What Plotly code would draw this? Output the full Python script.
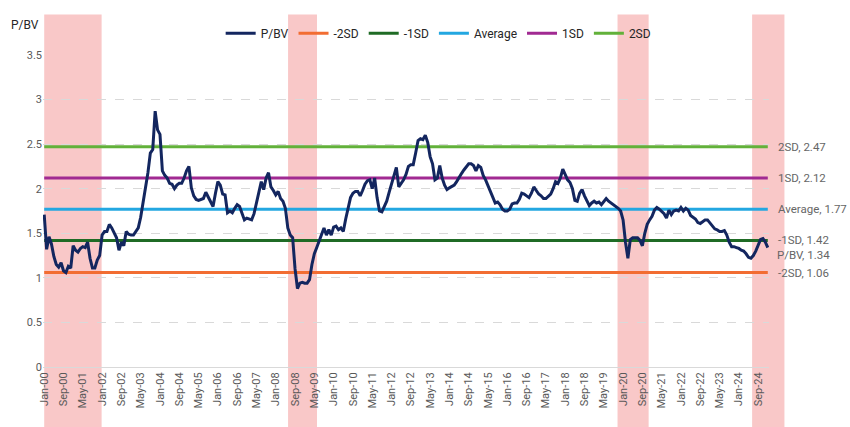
import pandas as pd
import plotly.graph_objects as go

# ---------------- data ----------------
pbv_2000 = [1.71, 1.32, 1.46, 1.38, 1.24, 1.15, 1.12, 1.17, 1.08, 1.06, 1.13, 1.11]
pbv_2001 = [1.36, 1.31, 1.29, 1.33, 1.35, 1.34, 1.40, 1.22, 1.11, 1.11, 1.20, 1.25]
pbv_2002 = [1.48, 1.52, 1.52, 1.60, 1.56, 1.50, 1.45, 1.31, 1.40, 1.36, 1.52, 1.49]
pbv_2003 = [1.48, 1.48, 1.52, 1.56, 1.68, 1.84, 2.02, 2.18, 2.40, 2.44, 2.87, 2.66]
pbv_2004 = [2.61, 2.20, 2.15, 2.12, 2.06, 2.05, 2.00, 2.04, 2.06, 2.06, 2.12, 2.20]
pbv_2005 = [2.25, 2.01, 1.92, 1.88, 1.87, 1.88, 1.89, 1.96, 1.90, 1.84, 1.80, 1.95]
pbv_2006 = [2.08, 2.04, 1.94, 1.93, 1.73, 1.75, 1.73, 1.78, 1.82, 1.80, 1.72, 1.65]
pbv_2007 = [1.67, 1.66, 1.65, 1.72, 1.85, 1.95, 2.08, 1.99, 2.12, 2.18, 2.02, 1.98]
pbv_2008 = [1.93, 1.97, 1.89, 1.86, 1.78, 1.56, 1.48, 1.45, 1.10, 0.88, 0.94, 0.95]
pbv_2009 = [0.94, 0.94, 0.98, 1.15, 1.27, 1.34, 1.42, 1.48, 1.56, 1.48, 1.54, 1.48]
pbv_2010 = [1.57, 1.58, 1.54, 1.56, 1.52, 1.66, 1.77, 1.90, 1.95, 1.97, 1.97, 1.92]
pbv_2011 = [1.98, 2.05, 2.09, 2.10, 2.00, 2.12, 1.90, 1.75, 1.74, 1.80, 1.86, 1.96]
pbv_2012 = [2.06, 2.16, 2.24, 2.02, 2.06, 2.10, 2.16, 2.25, 2.27, 2.27, 2.40, 2.54]
pbv_2013 = [2.56, 2.55, 2.60, 2.52, 2.36, 2.28, 2.10, 2.12, 2.26, 2.12, 2.04, 1.99]
pbv_2014 = [2.01, 2.03, 2.04, 2.08, 2.13, 2.17, 2.21, 2.25, 2.28, 2.28, 2.26, 2.20]
pbv_2015 = [2.26, 2.24, 2.15, 2.10, 2.03, 1.98, 1.90, 1.84, 1.85, 1.82, 1.77, 1.75]
pbv_2016 = [1.75, 1.77, 1.83, 1.84, 1.84, 1.88, 1.95, 1.94, 1.92, 1.90, 1.95, 2.02]
pbv_2017 = [1.98, 1.94, 1.92, 1.89, 1.89, 1.91, 1.94, 2.00, 2.08, 2.06, 2.12, 2.22]
pbv_2018 = [2.15, 2.10, 2.07, 2.00, 1.87, 1.86, 1.95, 1.99, 1.92, 1.87, 1.81, 1.84]
pbv_2019 = [1.86, 1.84, 1.85, 1.82, 1.85, 1.89, 1.86, 1.84, 1.83, 1.81, 1.78, 1.75]
pbv_2020 = [1.65, 1.40, 1.22, 1.43, 1.45, 1.45, 1.45, 1.42, 1.36, 1.50, 1.60, 1.65]
pbv_2021 = [1.69, 1.76, 1.79, 1.77, 1.75, 1.72, 1.67, 1.76, 1.71, 1.75, 1.76, 1.75]
pbv_2022 = [1.79, 1.75, 1.78, 1.76, 1.70, 1.68, 1.66, 1.62, 1.61, 1.63, 1.65, 1.65]
pbv_2023 = [1.62, 1.59, 1.55, 1.54, 1.52, 1.52, 1.53, 1.48, 1.40, 1.35, 1.35, 1.34]
pbv_2024 = [1.33, 1.31, 1.30, 1.27, 1.23, 1.22, 1.25, 1.30, 1.37, 1.43, 1.44, 1.40]
pbv_2025 = [1.34]

pbv = (pbv_2000 + pbv_2001 + pbv_2002 + pbv_2003 + pbv_2004 + pbv_2005 + pbv_2006
       + pbv_2007 + pbv_2008 + pbv_2009 + pbv_2010 + pbv_2011 + pbv_2012 + pbv_2013
       + pbv_2014 + pbv_2015 + pbv_2016 + pbv_2017 + pbv_2018 + pbv_2019 + pbv_2020
       + pbv_2021 + pbv_2022 + pbv_2023 + pbv_2024 + pbv_2025)

months = [d.strftime("%b-%y") for d in pd.date_range("2000-01-01", periods=len(pbv), freq="MS")]
tick_labels = months[::8][:38]

band_names = ["2SD", "1SD", "Average", "-1SD", "-2SD"]
band_values = [2.47, 2.12, 1.77, 1.42, 1.06]
band_colors = ["#62B13A", "#A12A92", "#23A7E1", "#1F6B25", "#F26D32"]

# shaded periods (start/end month index)
shade_start = [0.0, 101.1, 237.7, 293.5]
shade_end = [23.8, 113.1, 250.6, 306.9]

y_ticks = [0, 0.5, 1, 1.5, 2, 2.5, 3, 3.5]

FONT = "Roboto, Liberation Sans, sans-serif"
n = len(pbv)

fig = go.Figure()

legend_rank = {"-2SD": 2, "-1SD": 3, "Average": 4, "1SD": 5, "2SD": 6}
for name, val, col in zip(band_names, band_values, band_colors):
    fig.add_trace(go.Scatter(
        x=months, y=[val] * n, mode="lines", name=name,
        line=dict(color=col, width=3), legendrank=legend_rank[name],
        hoverinfo="skip"))

fig.add_trace(go.Scatter(
    x=months, y=pbv, mode="lines", name="P/BV",
    line=dict(color="#13265F", width=3), legendrank=1))

# shaded bands, converted to paper coordinates of the category axis
for s, e in zip(shade_start, shade_end):
    fig.add_shape(type="rect", xref="paper", yref="paper",
                  x0=(s + 0.5) / n, x1=(e + 0.5) / n, y0=-0.2, y1=1.13,
                  fillcolor="#F9C8C8", line=dict(width=0), layer="below")

# right-side labels
label_texts = ["2SD, 2.47", "1SD, 2.12", "Average, 1.77", "-1SD, 1.42", "-2SD, 1.06"]
for txt, val in zip(label_texts, band_values):
    fig.add_annotation(x=1, xref="paper", y=val, yref="y", text=txt, showarrow=False,
                       xanchor="left", xshift=7, font=dict(family=FONT, size=11.5, color="#666666"))
fig.add_annotation(x=1, xref="paper", y=pbv[-1], yref="y", text="P/BV, %.2f" % pbv[-1],
                   showarrow=False, xanchor="left", xshift=6, yshift=-7,
                   font=dict(family=FONT, size=11.5, color="#666666"))

fig.add_annotation(x=0, xref="paper", y=1.096, yref="paper", text="P/BV", showarrow=False,
                   xanchor="right", xshift=-2, yanchor="middle",
                   font=dict(family=FONT, size=12, color="#262626"))

fig.update_layout(
    width=850, height=427,
    margin=dict(l=43, r=81, t=55, b=60),
    paper_bgcolor="white", plot_bgcolor="white",
    font=dict(family=FONT, size=11, color="#595959"),
    showlegend=True,
    legend=dict(orientation="h", x=0.545, xanchor="center", y=1.07, yanchor="middle",
                font=dict(family=FONT, size=12, color="#262626"),
                bgcolor="rgba(0,0,0,0)", itemwidth=30, tracegroupgap=0),
    xaxis=dict(type="category", categoryorder="array", categoryarray=months,
               range=[-0.5, n - 0.5], tickmode="array", tickvals=tick_labels,
               ticktext=tick_labels, tickangle=-90, showgrid=False,
               showline=True, linecolor="#D9D9D9", linewidth=1, ticks="",
               tickfont=dict(family=FONT, size=11, color="#595959"), automargin=False),
    yaxis=dict(range=[0, 3.5], tickvals=y_ticks, ticktext=[("%g" % v) for v in y_ticks],
               showgrid=True, gridcolor="#D9D9D9", griddash="dash", gridwidth=1,
               zeroline=False, showline=False, ticks="",
               tickfont=dict(family=FONT, size=11, color="#595959"), automargin=False),
)

fig.write_html("out.html", config={"displayModeBar": False},
               post_script="document.body.style.margin='0px';")
